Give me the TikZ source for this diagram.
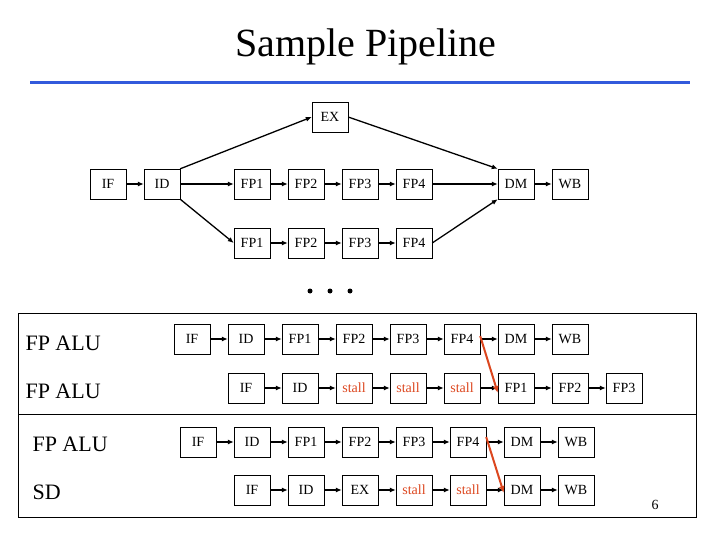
\documentclass[tikz,border=0pt]{standalone}
\usepackage{fontspec}
\setmainfont{Liberation Serif}
\usetikzlibrary{positioning, arrows.meta}
\definecolor{titleblue}{RGB}{50,90,220}
\definecolor{stallred}{RGB}{220,70,30}
\begin{document}
\begin{tikzpicture}[x=1pt, y=-1pt, node distance = 54pt, on grid,
    stage/.style = {draw, minimum width=36pt, minimum height=30pt, inner sep=0pt, font=\fontsize{14}{14}\selectfont},
    stall/.style = {stage, text=stallred},
    flow/.style = {-{Latex[length=6pt,width=5pt]}, line width=1.3pt},
    fwd/.style = {-{Latex[length=7pt,width=6pt]}, line width=2pt, stallred},
    lbl/.style = {anchor=west, font=\fontsize{22}{22}\selectfont}]
  \useasboundingbox (0,0) rectangle (720,540);
  \node (title) at (366,47) {\fontsize{40}{40}\selectfont Sample Pipeline};
  \draw[titleblue, line width=3pt] (30,83) -- (690,83);
  % pipeline structure
  \node[stage] (if) at (108,184) {IF};
  \node[stage] (id) [right=of if] {ID};
  \node[stage] (ex) at (330,117) {EX};
  \node[stage] (a1) at (252,184) {FP1};
  \node[stage] (a2) [right=of a1] {FP2};
  \node[stage] (a3) [right=of a2] {FP3};
  \node[stage] (a4) [right=of a3] {FP4};
  \node[stage] (b1) at (252,243) {FP1};
  \node[stage] (b2) [right=of b1] {FP2};
  \node[stage] (b3) [right=of b2] {FP3};
  \node[stage] (b4) [right=of b3] {FP4};
  \node[stage] (dm) at (516,184) {DM};
  \node[stage] (wb) [right=of dm] {WB};
  \path[flow]
    (if) edge (id)
    (id.north east) edge (ex.west)
    (id) edge (a1)
    (id.south east) edge (b1.west)
    (a1) edge (a2) (a2) edge (a3) (a3) edge (a4)
    (b1) edge (b2) (b2) edge (b3) (b3) edge (b4)
    (ex.east) edge (dm.north west)
    (a4) edge (dm)
    (b4.east) edge (dm.south west)
    (dm) edge (wb);
  \foreach \x in {310,330,350}
    \fill (\x,291) circle (2.5pt);
  % example sequences
  \draw[thick] (18,313) rectangle (696,517);
  \draw[thick] (18,414) -- (696,414);
  \node[lbl] (l1) at (22,343) {FP ALU};
  \node[lbl] (l2) at (22,391) {FP ALU};
  \node[lbl] (l3) at (29,444) {FP ALU};
  \node[lbl] (l4) at (29,492) {SD};
  \node[stage] (p1) at (192,339) {IF};
  \node[stage] (p2) [right=of p1] {ID};
  \node[stage] (p3) [right=of p2] {FP1};
  \node[stage] (p4) [right=of p3] {FP2};
  \node[stage] (p5) [right=of p4] {FP3};
  \node[stage] (p6) [right=of p5] {FP4};
  \node[stage] (p7) [right=of p6] {DM};
  \node[stage] (p8) [right=of p7] {WB};
  \node[stage] (q1) at (246,388) {IF};
  \node[stage] (q2) [right=of q1] {ID};
  \node[stall] (q3) [right=of q2] {stall};
  \node[stall] (q4) [right=of q3] {stall};
  \node[stall] (q5) [right=of q4] {stall};
  \node[stage] (q6) [right=of q5] {FP1};
  \node[stage] (q7) [right=of q6] {FP2};
  \node[stage] (q8) [right=of q7] {FP3};
  \node[stage] (r1) at (198,442) {IF};
  \node[stage] (r2) [right=of r1] {ID};
  \node[stage] (r3) [right=of r2] {FP1};
  \node[stage] (r4) [right=of r3] {FP2};
  \node[stage] (r5) [right=of r4] {FP3};
  \node[stage] (r6) [right=of r5] {FP4};
  \node[stage] (r7) [right=of r6] {DM};
  \node[stage] (r8) [right=of r7] {WB};
  \node[stage] (s1) at (252,490) {IF};
  \node[stage] (s2) [right=of s1] {ID};
  \node[stage] (s3) [right=of s2] {EX};
  \node[stall] (s4) [right=of s3] {stall};
  \node[stall] (s5) [right=of s4] {stall};
  \node[stage] (s6) [right=of s5] {DM};
  \node[stage] (s7) [right=of s6] {WB};
  \foreach \i [count=\j from 2] in {1,...,7} {
    \draw[flow] (p\i) -- (p\j);
    \draw[flow] (q\i) -- (q\j);
    \draw[flow] (r\i) -- (r\j);
  }
  \foreach \i [count=\j from 2] in {1,...,6}
    \draw[flow] (s\i) -- (s\j);
  \draw[fwd] ([yshift=3pt]p6.east) -- ([yshift=-5pt]q6.west);
  \draw[fwd] ([yshift=5pt]r6.east) -- ([yshift=-3pt]s6.west);
  \node (page) at (655,505) {\fontsize{14}{14}\selectfont 6};
\end{tikzpicture}
\end{document}
